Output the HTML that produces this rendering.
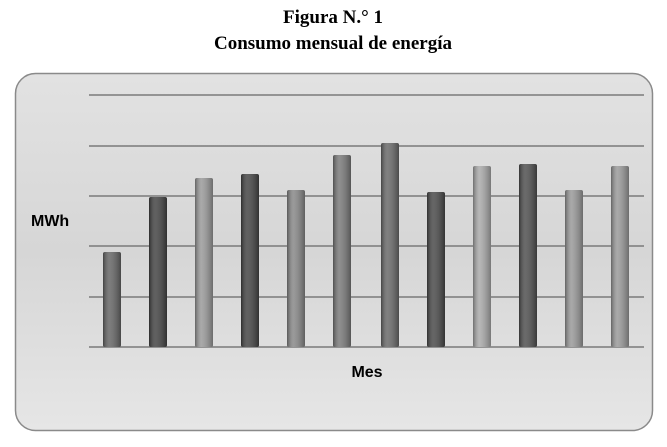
<!DOCTYPE html><html><head><style>body{margin:0;background:#fff;width:667px;height:442px;overflow:hidden}</style></head><body>
<svg width="667" height="442" xmlns="http://www.w3.org/2000/svg">
<defs>
<linearGradient id="bg" x1="0" y1="0" x2="0" y2="1"><stop offset="0" stop-color="#e2e2e2"/><stop offset="0.5" stop-color="#d6d6d6"/><stop offset="1" stop-color="#e6e6e6"/></linearGradient>
<linearGradient id="sh" x1="0" y1="0" x2="1" y2="0"><stop offset="0" stop-color="#000" stop-opacity="0.35"/><stop offset="0.35" stop-color="#fff" stop-opacity="0.15"/><stop offset="1" stop-color="#000" stop-opacity="0.3"/></linearGradient>
</defs>
<text x="333" y="23" text-anchor="middle" font-family="Liberation Serif, serif" font-weight="bold" font-size="19">Figura N.° 1</text>
<text x="333" y="49" text-anchor="middle" font-family="Liberation Serif, serif" font-weight="bold" font-size="19">Consumo mensual de energía</text>
<rect x="15.5" y="73.5" width="637" height="357" rx="20" fill="url(#bg)" stroke="#8a8a8a" stroke-width="1.5"/>
<g stroke="#7a7a7a" stroke-width="1.5">
<line x1="89" y1="95" x2="644" y2="95"/><line x1="89" y1="146" x2="644" y2="146"/><line x1="89" y1="196" x2="644" y2="196"/><line x1="89" y1="246" x2="644" y2="246"/><line x1="89" y1="297" x2="644" y2="297"/><line x1="89" y1="347" x2="644" y2="347"/>
</g>
<g>
<rect x="103" y="252" width="18" height="95" rx="2" fill="#666"/>
<rect x="149" y="197" width="18" height="150" rx="2" fill="#444"/>
<rect x="195" y="178" width="18" height="169" rx="2" fill="#9a9a9a"/>
<rect x="241" y="174" width="18" height="173" rx="2" fill="#454545"/>
<rect x="287" y="190" width="18" height="157" rx="2" fill="#888"/>
<rect x="333" y="155" width="18" height="192" rx="2" fill="#7a7a7a"/>
<rect x="381" y="143" width="18" height="204" rx="2" fill="#6a6a6a"/>
<rect x="427" y="192" width="18" height="155" rx="2" fill="#4a4a4a"/>
<rect x="473" y="166" width="18" height="181" rx="2" fill="#aaa"/>
<rect x="519" y="164" width="18" height="183" rx="2" fill="#505050"/>
<rect x="565" y="190" width="18" height="157" rx="2" fill="#999"/>
<rect x="611" y="166" width="18" height="181" rx="2" fill="#9a9a9a"/>
</g>
<g fill="url(#sh)">
<rect x="103" y="252" width="18" height="95" rx="2"/><rect x="149" y="197" width="18" height="150" rx="2"/><rect x="195" y="178" width="18" height="169" rx="2"/><rect x="241" y="174" width="18" height="173" rx="2"/><rect x="287" y="190" width="18" height="157" rx="2"/><rect x="333" y="155" width="18" height="192" rx="2"/><rect x="381" y="143" width="18" height="204" rx="2"/><rect x="427" y="192" width="18" height="155" rx="2"/><rect x="473" y="166" width="18" height="181" rx="2"/><rect x="519" y="164" width="18" height="183" rx="2"/><rect x="565" y="190" width="18" height="157" rx="2"/><rect x="611" y="166" width="18" height="181" rx="2"/>
</g>
<text x="31" y="226" font-family="Liberation Sans, sans-serif" font-weight="bold" font-size="16">MWh</text>
<text x="367" y="377" text-anchor="middle" font-family="Liberation Sans, sans-serif" font-weight="bold" font-size="16">Mes</text>
</svg></body></html>
